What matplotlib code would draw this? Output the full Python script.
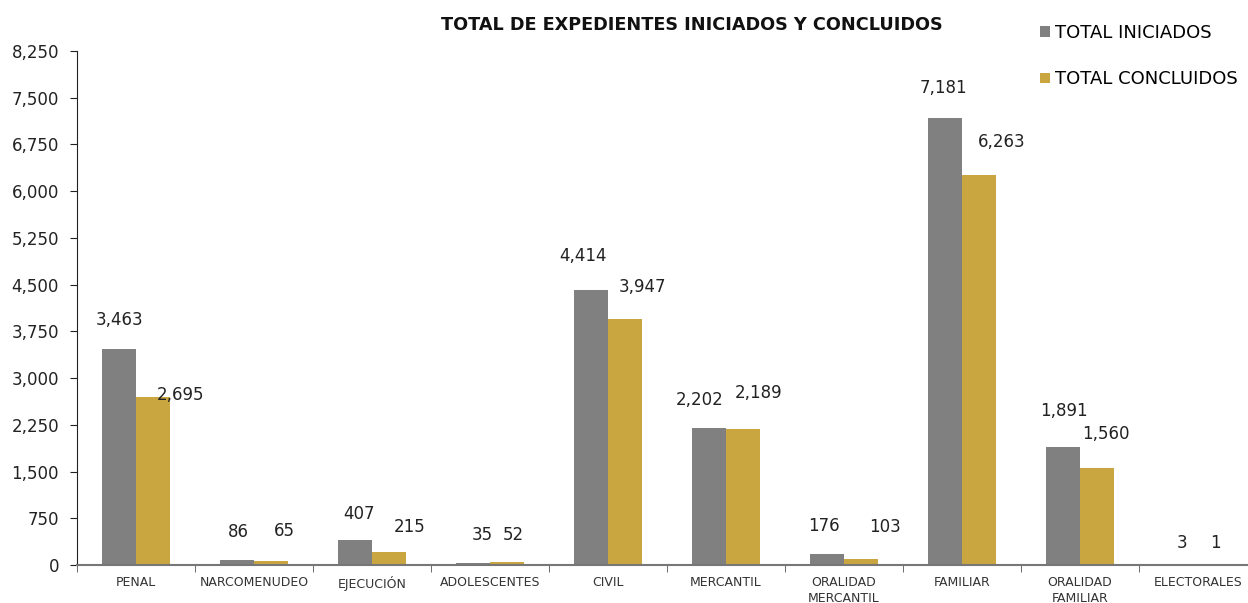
import numpy as np
import matplotlib
matplotlib.use("Agg")
import matplotlib.pyplot as plt
from matplotlib.ticker import FuncFormatter, MultipleLocator

# data
categorias = ["PENAL", "NARCOMENUDEO", "EJECUCIÓN", "ADOLESCENTES", "CIVIL",
              "MERCANTIL", "ORALIDAD\nMERCANTIL", "FAMILIAR", "ORALIDAD\nFAMILIAR",
              "ELECTORALES"]
iniciados = [3463, 86, 407, 35, 4414, 2202, 176, 7181, 1891, 3]
concluidos = [2695, 65, 215, 52, 3947, 2189, 103, 6263, 1560, 1]

# label nudges (pixels) as placed in the original
dx_ini = [1, 1, 4, 9, -8, -9, -3, -1, 1, 1]
dy_ini = [29, 28, 26, 28, 34, 28, 28, 30, 36, 22]
dx_con = [27, 13, 21, 6, 17, 15, 24, 23, 9, 0]
dy_con = [2, 30, 25, 27, 32, 36, 32, 33, 34, 22]

gris = "#808080"
oro = "#C9A640"
plt.rcParams['font.family'] = ['DejaVu Sans']

fig = plt.figure(figsize=(12.48, 6.03), dpi=100)
ax = fig.add_axes([77/1248, 1 - 565/603, 1180/1248, 514/603])

x = np.arange(len(categorias))
w = 0.29
b1 = ax.bar(x - w/2, iniciados, w, color=gris, label="TOTAL INICIADOS")
b2 = ax.bar(x + w/2, concluidos, w, color=oro, label="TOTAL CONCLUIDOS")

for i in range(len(x)):
    ax.annotate(f"{iniciados[i]:,}", (x[i] - w/2, iniciados[i]),
                xytext=(dx_ini[i], dy_ini[i]), textcoords="offset pixels",
                ha="center", va="center", fontsize=12, color="#222222")
    ax.annotate(f"{concluidos[i]:,}", (x[i] + w/2, concluidos[i]),
                xytext=(dx_con[i], dy_con[i]), textcoords="offset pixels",
                ha="center", va="center", fontsize=12, color="#222222")

ax.set_xlim(-0.5, len(x) - 0.5)
ax.set_ylim(0, 8250)
ax.yaxis.set_major_locator(MultipleLocator(750))
ax.yaxis.set_major_formatter(FuncFormatter(lambda v, p: f"{int(v):,}"))

ax.set_xticks(x)
ax.set_xticklabels(categorias, fontsize=9, color="#333333", linespacing=1.3)
ax.set_xticks(np.arange(-0.5, len(x)), minor=True)
ax.tick_params(axis="x", which="major", length=0, pad=8)
ax.tick_params(axis="x", which="minor", length=5, color="#555555", direction="out")
ax.tick_params(axis="y", length=5, color="#222222", labelsize=12, pad=8,
               labelcolor="#222222")

for s in ["top", "right"]:
    ax.spines[s].set_visible(False)
ax.spines["left"].set_color("#222222")
ax.spines["bottom"].set_color("#777777")
ax.spines["bottom"].set_linewidth(1.5)

fig.text(692/1248, 1 - 25/603, "TOTAL DE EXPEDIENTES INICIADOS Y CONCLUIDOS",
         ha="center", va="center", fontsize=12.7, fontweight="bold", color="#111111")

fig.legend(handles=[b1, b2], loc="upper left", bbox_to_anchor=(1033/1248, 1 - 17/603),
           frameon=False, fontsize=13, handlelength=0.55, handleheight=0.55,
           handletextpad=0.25, labelspacing=1.56, borderaxespad=0)

fig.savefig("out.png", dpi=100)
